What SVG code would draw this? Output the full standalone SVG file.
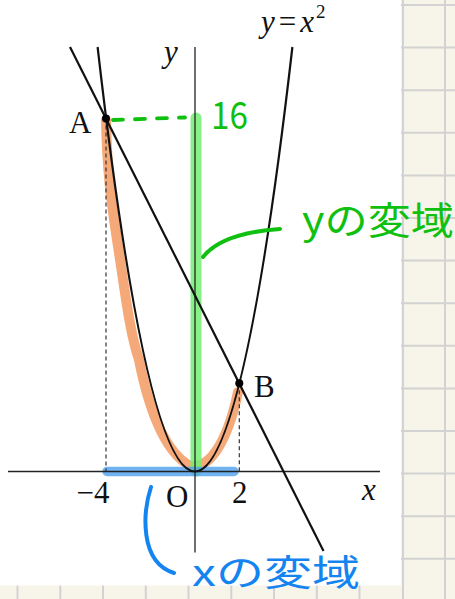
<svg xmlns="http://www.w3.org/2000/svg" width="455" height="599" viewBox="0 0 455 599">
<style>
.grid{stroke:#d2d2d2;stroke-width:2}
.lbl{font-family:"Liberation Serif","DejaVu Serif",serif;font-size:31px;fill:#111}
.it{font-style:italic}
.axis{stroke:#222;stroke-width:1.3;fill:none}
.curve{stroke:#111;stroke-width:2.2;fill:none}
.dash{stroke:#333;stroke-width:1.2;stroke-dasharray:4 3;fill:none}
.hand{font-family:"Noto Sans CJK JP","Noto Sans",sans-serif}
</style>
<rect x="0" y="0" width="455" height="599" fill="#f7f5e9"/>
<g id="grid">
<line class="grid" x1="403" y1="0" x2="403" y2="599"/>
<line class="grid" x1="445" y1="0" x2="445" y2="599"/>
<line class="grid" x1="400" y1="5" x2="455" y2="5"/>
<line class="grid" x1="400" y1="47.6" x2="455" y2="47.6"/>
<line class="grid" x1="400" y1="90.2" x2="455" y2="90.2"/>
<line class="grid" x1="400" y1="132.8" x2="455" y2="132.8"/>
<line class="grid" x1="400" y1="175.4" x2="455" y2="175.4"/>
<line class="grid" x1="400" y1="218" x2="455" y2="218"/>
<line class="grid" x1="400" y1="260.6" x2="455" y2="260.6"/>
<line class="grid" x1="400" y1="303.2" x2="455" y2="303.2"/>
<line class="grid" x1="400" y1="345.8" x2="455" y2="345.8"/>
<line class="grid" x1="400" y1="388.4" x2="455" y2="388.4"/>
<line class="grid" x1="400" y1="431" x2="455" y2="431"/>
<line class="grid" x1="400" y1="473.6" x2="455" y2="473.6"/>
<line class="grid" x1="400" y1="516.2" x2="455" y2="516.2"/>
<line class="grid" x1="400" y1="558.8" x2="455" y2="558.8"/>
<line class="grid" x1="17.5" y1="585" x2="17.5" y2="599"/>
<line class="grid" x1="60.3" y1="585" x2="60.3" y2="599"/>
<line class="grid" x1="103" y1="585" x2="103" y2="599"/>
<line class="grid" x1="145.8" y1="585" x2="145.8" y2="599"/>
<line class="grid" x1="188.5" y1="585" x2="188.5" y2="599"/>
<line class="grid" x1="231.3" y1="585" x2="231.3" y2="599"/>
<line class="grid" x1="274" y1="585" x2="274" y2="599"/>
<line class="grid" x1="316.8" y1="585" x2="316.8" y2="599"/>
<line class="grid" x1="359.5" y1="585" x2="359.5" y2="599"/>
</g>
<rect x="0" y="0" width="401" height="585.5" fill="#ffffff"/>
<g id="highlights">
<path d="M106,120 C107,170 111,200 117,240 C125,290 129,330 139,360 C149,410 165,452 190,466 C210,470 228,440 238,392" fill="none" stroke="#f39a62" stroke-opacity="0.85" stroke-width="10" stroke-linecap="round" stroke-linejoin="round"/>
<line x1="196" y1="118" x2="196" y2="471" stroke="#72ee72" stroke-opacity="0.85" stroke-width="11" stroke-linecap="round"/>
<line x1="107" y1="471.5" x2="234" y2="471.5" stroke="#4ea0ee" stroke-opacity="0.8" stroke-width="9.5" stroke-linecap="round"/>
</g>
<g id="axes">
<line class="axis" x1="8" y1="471.5" x2="380" y2="471.5"/>
<line class="axis" x1="195" y1="47" x2="195" y2="552.5" stroke="#444"/>
</g>
<g id="connectors">
<line class="dash" x1="106" y1="118.5" x2="106" y2="471"/>
<line class="dash" x1="239.3" y1="383.3" x2="239.3" y2="471"/>
<path class="curve" d="M97.6,47 Q195,896 292.4,47"/>
<line class="curve" x1="70" y1="47" x2="323.5" y2="551"/>
</g>
<g id="pointA">
<circle cx="106" cy="118.5" r="4" fill="#000"/>
<text class="lbl" x="69" y="133">A</text>
</g>
<g id="pointB">
<circle cx="239.3" cy="383.3" r="4" fill="#000"/>
<text class="lbl" x="254" y="397">B</text>
</g>
<g id="labels">
<text class="lbl it" x="164" y="62" font-size="31">y</text>
<text class="lbl it" x="362" y="500" font-size="31">x</text>
<text class="lbl" x="93" y="503" text-anchor="middle">−4</text>
<text class="lbl" x="166" y="507">O</text>
<text class="lbl" x="232" y="503">2</text>
<text class="lbl it" x="261" y="32" font-size="33">y<tspan font-style="normal" dx="4">=</tspan><tspan dx="4">x</tspan><tspan font-style="normal" font-size="19" dx="2" dy="-14">2</tspan></text>
</g>
<g id="y-range-note">
<path d="M113,120 L185,117.5" fill="none" stroke="#10c010" stroke-width="3.8" stroke-dasharray="10 12" stroke-linecap="round"/>
<text class="hand" x="211" y="129" font-size="38" fill="#10c010" textLength="37" lengthAdjust="spacingAndGlyphs">16</text>
<path d="M203,257 Q222,233 280,229" fill="none" stroke="#10c010" stroke-width="4" stroke-linecap="round"/>
<text class="hand" x="302" y="234" font-size="38" fill="#10c010" textLength="152" lengthAdjust="spacingAndGlyphs">yの変域</text>
</g>
<g id="x-range-note">
<path d="M151,487 C143,512 139,562 174,573" fill="none" stroke="#1484f0" stroke-width="4" stroke-linecap="round"/>
<text class="hand" x="192" y="586" font-size="36" fill="#1484f0" textLength="168" lengthAdjust="spacingAndGlyphs">xの変域</text>
</g>
</svg>
